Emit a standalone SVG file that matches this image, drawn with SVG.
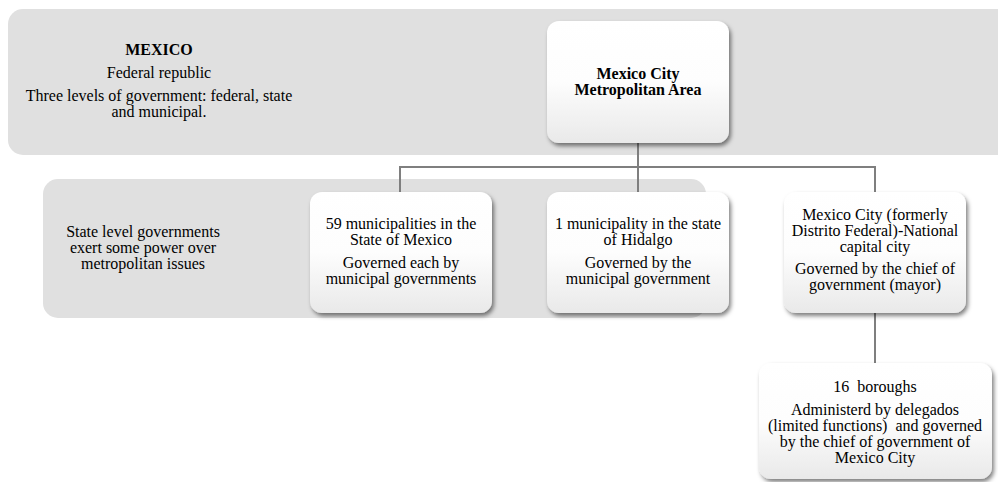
<svg xmlns="http://www.w3.org/2000/svg" width="998" height="482" viewBox="0 0 998 482" font-family="'Liberation Serif', 'DejaVu Serif', serif">
  <defs>
    <linearGradient id="boxGrad" x1="0" y1="0" x2="0" y2="1">
      <stop offset="0" stop-color="#ffffff"/>
      <stop offset="0.5" stop-color="#fdfdfd"/>
      <stop offset="1" stop-color="#e9e9e9"/>
    </linearGradient>
    <filter id="shadow" x="-10%" y="-10%" width="125%" height="130%">
      <feDropShadow dx="2" dy="3" stdDeviation="2.2" flood-color="#000000" flood-opacity="0.5"/>
    </filter>
  </defs>
  <style>
    .band { fill: #e0e0e0; }
    .box { fill: url(#boxGrad); filter: url(#shadow); }
    .conn { stroke: #7f7f7f; stroke-width: 2; fill: none; }
    text { font-family: 'Liberation Serif', 'DejaVu Serif', serif; font-size: 16px; fill: #000000; text-anchor: middle; }
    .b { font-weight: bold; }
  </style>

  <g id="band-federal">
    <path class="band" d="M23,9 H998 V155 H23 A15,15 0 0 1 8,140 V24 A15,15 0 0 1 23,9 Z"/>
    <text x="159" y="55" class="b">MEXICO</text>
    <text x="159" y="78">Federal republic</text>
    <text x="159" y="101">Three levels of government: federal, state</text>
    <text x="159" y="117">and municipal.</text>
  </g>

  <g id="band-state">
    <rect class="band" x="43" y="179" width="663" height="139" rx="15" ry="15"/>
    <text x="143" y="237">State level governments</text>
    <text x="143" y="253">exert some power over</text>
    <text x="143" y="269">metropolitan issues</text>
  </g>

  <g id="connectors">
    <path class="conn" d="M638,143 V193"/>
    <path class="conn" d="M400,193 V167 H875 V193"/>
    <path class="conn" d="M875,313 V363"/>
  </g>

  <g id="node-metro">
    <rect class="box" x="547" y="21" width="182" height="122" rx="12" ry="12"/>
    <text x="638" y="79" class="b">Mexico City</text>
    <text x="638" y="95" class="b">Metropolitan Area</text>
  </g>

  <g id="node-state-mexico">
    <rect class="box" x="310" y="192" width="182" height="121" rx="12" ry="12"/>
    <text x="401" y="229">59 municipalities in the</text>
    <text x="401" y="245">State of Mexico</text>
    <text x="401" y="268">Governed each by</text>
    <text x="401" y="284">municipal governments</text>
  </g>

  <g id="node-hidalgo">
    <rect class="box" x="547" y="192" width="182" height="121" rx="12" ry="12"/>
    <text x="638" y="229">1 municipality in the state</text>
    <text x="638" y="245">of Hidalgo</text>
    <text x="638" y="268">Governed by the</text>
    <text x="638" y="284">municipal government</text>
  </g>

  <g id="node-mexico-city">
    <rect class="box" x="784" y="192" width="182" height="121" rx="12" ry="12"/>
    <text x="875" y="220">Mexico City (formerly</text>
    <text x="875" y="236">Distrito Federal)-National</text>
    <text x="875" y="252">capital city</text>
    <text x="875" y="274">Governed by the chief of</text>
    <text x="875" y="290">government (mayor)</text>
  </g>

  <g id="node-boroughs">
    <rect class="box" x="759" y="363" width="233" height="116" rx="12" ry="12"/>
    <text x="875" y="392" xml:space="preserve">16  boroughs</text>
    <text x="875" y="415">Administerd by delegados</text>
    <text x="875" y="431" xml:space="preserve">(limited functions)  and governed</text>
    <text x="875" y="447">by the chief of government of</text>
    <text x="875" y="463">Mexico City</text>
  </g>
</svg>
